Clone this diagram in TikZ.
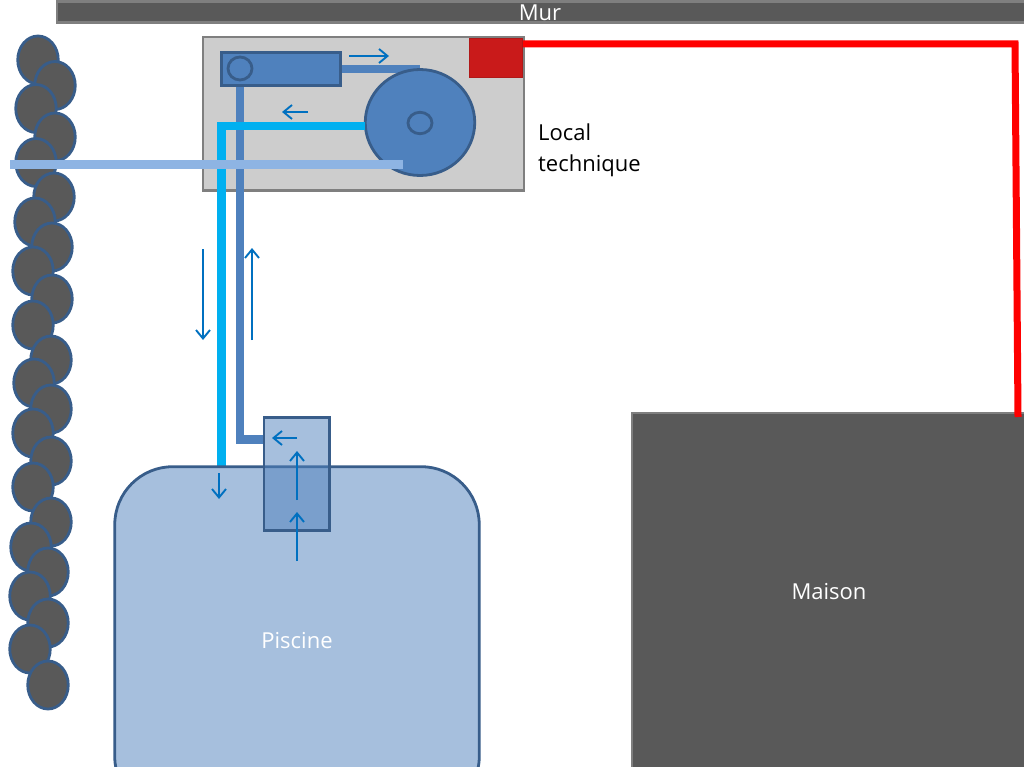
\documentclass[tikz,border=0pt]{standalone}
\usepackage{fontspec}
\setmainfont{Open Sans}
\usetikzlibrary{arrows.meta,shapes.geometric}
\definecolor{dgrey}{HTML}{595959}
\definecolor{mgrey}{HTML}{7F7F7F}
\definecolor{lgrey}{HTML}{CDCDCD}
\definecolor{bfill}{HTML}{4F81BD}
\definecolor{bline}{HTML}{385D8A}
\definecolor{cyanp}{HTML}{00B0F0}
\definecolor{lightp}{HTML}{8EB4E3}
\definecolor{arrowc}{HTML}{0070C0}
\definecolor{redbox}{HTML}{C91A1A}
\definecolor{rededge}{HTML}{B01818}
\tikzset{
  x=1pt,y=-1pt,
  box/.style={rectangle,inner sep=0pt,outer sep=0pt,line width=2.8pt},
  greybox/.style={box,draw=mgrey,fill=dgrey,text=white},
  hedge/.style={ellipse,inner sep=0pt,outer sep=0pt,minimum width=40.5pt,minimum height=48pt,draw=bline,fill=dgrey,line width=2.8pt},
  bluebody/.style={draw=bline,fill=bfill,line width=2.8pt,inner sep=0pt,outer sep=0pt},
  eye/.style={ellipse,draw=bline,line width=2.8pt,inner sep=0pt},
  flow/.style={arrowc,line width=1.8pt,-{Straight Barb[length=8.5pt,width=14pt,line width=1.9pt]}},
  pipedark/.style={bfill,line width=8.5pt},
  pipecyan/.style={cyanp,line width=8.5pt},
  pipelight/.style={lightp,line width=8.5pt},
  piperedl/.style={red,line width=7pt},
  lab/.style={font=\fontsize{22}{31}\selectfont}
}
\begin{document}
\begin{tikzpicture}
\clip (0,0) rectangle (1024,767);
\fill[white] (0,0) rectangle (1024,767);
% wall
\node[greybox,minimum width=974pt,minimum height=20.5pt] (mur) at (544,12) {};
\node[text=white,lab,inner sep=0pt] (murtext) at (540,13) {Mur};
% hedge
\foreach \n/\cx/\cy in {1/38/60,2/55/85.5,3/36/108.5,4/55/137,5/36/162.5,6/54/197,7/35/222,8/52/247,9/33/271,10/52/299,11/33/325,12/51/360,13/34/383,14/51/409,15/33/433,16/51/461,17/33/487,18/51/522,19/31/547,20/48/572,21/30/596,22/48/623,23/30/649,24/48/685}
  \node[hedge] (h\n) at (\cx,\cy) {};
% local technique
\node[box,draw=mgrey,fill=lgrey,minimum width=321pt,minimum height=153.5pt] (local) at (363.5,113.7) {};
\node[box,fill=redbox,draw=rededge,line width=1pt,minimum width=53pt,minimum height=39pt] (relay) at (496,58.3) {};
\node[lab,align=left,anchor=west,inner sep=0pt] (localtext) at (538,150) {Local\\technique};
% pump, filter
\coordinate (pumpin) at (341,69);
\coordinate (pumpout) at (420,69);
\draw[pipedark] (pumpin) -- (pumpout);
\coordinate (dtop) at (240,86);
\coordinate (dcorner) at (240,439.5);
\coordinate (dend) at (264,439.5);
\draw[pipedark] (dtop) -- (dcorner) -- (dend);
\node[box,bluebody,minimum width=119.5pt,minimum height=32.5pt] (pump) at (281,69) {};
\node[eye,minimum width=24pt,minimum height=23pt] (pumpeye) at (240,68.5) {};
\node[ellipse,bluebody,minimum width=109.5pt,minimum height=106pt] (disc) at (420,122.5) {};
\node[eye,minimum width=24pt,minimum height=21.5pt] (disceye) at (420,123) {};
\coordinate (cyanstart) at (365,125.8);
\coordinate (cyancorner) at (221.7,125.8);
\coordinate (cyanend) at (221.7,466);
\draw[pipecyan,line join=miter] (cyanstart) -- (cyancorner) -- (cyanend);
\coordinate (lightl) at (10,164.3);
\coordinate (lightr) at (403,164.3);
\draw[pipelight] (lightl) -- (lightr);
% red cable
\coordinate (redstart) at (523,44);
\coordinate (redcorner) at (1015,44);
\coordinate (redend) at (1018,417);
% house
\node[greybox,minimum width=400pt,minimum height=400pt] (maison) at (832,613) {};
\node[text=white,lab,inner sep=0pt] (maisontext) at (829,592) {Maison};
\draw[piperedl,line join=miter] (redstart) -- (redcorner) -- (redend);
% pool
\node[box,draw=bline,fill=bfill,fill opacity=.5,text opacity=1,text=white,lab,rounded corners=58pt,minimum width=364.5pt,minimum height=348pt] (pool) at (297,640.7) {Piscine};
\node[box,draw=bline,fill=bfill,fill opacity=.5,minimum width=65.5pt,minimum height=113.5pt] (skimmer) at (296.7,474) {};
% flow arrows
\coordinate (a1) at (349,56); \coordinate (a2) at (389,56);
\coordinate (b1) at (308,112); \coordinate (b2) at (282,112);
\coordinate (c1) at (203,249); \coordinate (c2) at (203,340);
\coordinate (d1) at (252,340); \coordinate (d2) at (252,248);
\coordinate (e1) at (219,473); \coordinate (e2) at (219,499);
\coordinate (f1) at (297,500); \coordinate (f2) at (297,451);
\coordinate (g1) at (297,561); \coordinate (g2) at (297,512);
\coordinate (k1) at (297,438); \coordinate (k2) at (272,438);
\foreach \p/\q in {a1/a2,b1/b2,c1/c2,d1/d2,e1/e2,f1/f2,g1/g2,k1/k2}
  \draw[flow] (\p) -- (\q);
\end{tikzpicture}
\end{document}
